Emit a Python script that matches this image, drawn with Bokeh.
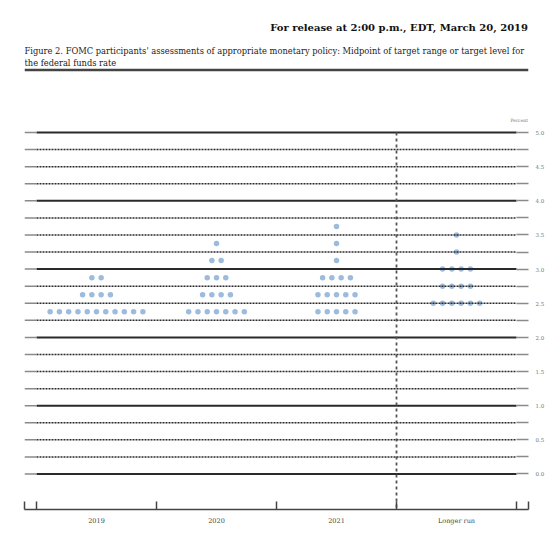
from bokeh.plotting import figure
from bokeh.layouts import column
from bokeh.models import Range1d, FixedTicker, NumeralTickFormatter, Label
from bokeh.embed import file_html
from bokeh.resources import INLINE

# ---------------- data ----------------
categories = ["2019", "2020", "2021", "Longer run"]

rates_2019 = [2.375, 2.625, 2.875]
counts_2019 = [11, 4, 2]
rates_2020 = [2.375, 2.625, 2.875, 3.125, 3.375]
counts_2020 = [7, 4, 3, 2, 1]
rates_2021 = [2.375, 2.625, 2.875, 3.125, 3.375, 3.625]
counts_2021 = [5, 5, 4, 1, 1, 1]
rates_lr = [2.5, 2.75, 3.0, 3.25, 3.5]
counts_lr = [6, 4, 4, 1, 1]

y_major_ticks = [0.0, 0.5, 1.0, 1.5, 2.0, 2.5, 3.0, 3.5, 4.0, 4.5, 5.0]
y_minor_ticks = [0.25, 0.75, 1.25, 1.75, 2.25, 2.75, 3.25, 3.75, 4.25, 4.75]
solid_levels = [0.0, 1.0, 2.0, 3.0, 4.0, 5.0]
dotted_levels = [0.25, 0.5, 0.75, 1.25, 1.5, 1.75, 2.25, 2.5, 2.75,
                 3.25, 3.5, 3.75, 4.25, 4.5, 4.75]

release_text = "For release at 2:00 p.m., EDT, March 20, 2019"
caption_lines = [
    "Figure 2. FOMC participants' assessments of appropriate monetary policy: Midpoint of target range or target level for",
    "the federal funds rate",
]
unit_text = "Percent"

# ---------------- layout ----------------
W = 552
TOP_H = 76
BOT_H = 454
FL, FR = 24, 528          # frame left / right (page px)
SERIF = "DejaVu Serif"

# ---------- header figure (page px coordinates) ----------
h = figure(width=W, height=TOP_H, output_backend="svg", toolbar_location=None,
           x_range=Range1d(FL, FR), y_range=Range1d(TOP_H, 0),
           x_axis_location=None, y_axis_location=None,
           min_border_left=FL, min_border_right=W - FR, min_border_top=0, min_border_bottom=0)
h.outline_line_color = None
h.grid.visible = False


def header_text(text, x, y, size, align="left", style="normal", color="#222222"):
    h.add_layout(Label(x=x, y=y, text=text, text_font=SERIF, text_font_size=size,
                       text_font_style=style, text_color=color,
                       text_align=align, text_baseline="middle"))


header_text(release_text, FR - 0.5, 27, "10px", align="right", style="bold", color="#111111")
header_text(caption_lines[0], FL, 50, "8.3px")
header_text(caption_lines[1], FL, 62, "8.3px")
h.segment(x0=[FL], x1=[FR], y0=[69.5], y1=[69.5], line_color="#444444", line_width=2.5)

# ---------- chart figure ----------
series = [(rates_2019, counts_2019), (rates_2020, counts_2020),
          (rates_2021, counts_2021), (rates_lr, counts_lr)]
spacing = 0.0773
xs, ys = [], []
for i, (rates, counts) in enumerate(series):
    center = i + 0.5
    for r, n in zip(rates, counts):
        for j in range(n):
            xs.append(center + (j - (n - 1) / 2) * spacing)
            ys.append(r)

n_cat = len(categories)
x_lo, x_hi = -0.1, n_cat + 0.1
y_lo, y_hi = -0.5198, 5.820

p = figure(width=W, height=BOT_H, output_backend="svg", toolbar_location=None,
           x_range=Range1d(x_lo, x_hi), y_range=Range1d(y_lo, y_hi),
           x_axis_location="below", y_axis_location="right",
           min_border_left=FL, min_border_right=W - FR, min_border_top=0, min_border_bottom=21)
p.outline_line_color = None
p.grid.visible = False

# dots (under the lines)
p.scatter(xs, ys, size=5.5, fill_color="#9cbbdd", line_color=None)

# horizontal lines
p.segment(x0=[0] * len(solid_levels), x1=[n_cat] * len(solid_levels),
          y0=solid_levels, y1=solid_levels, line_color="#2a2a2a", line_width=2)
p.segment(x0=[0] * len(dotted_levels), x1=[n_cat] * len(dotted_levels),
          y0=dotted_levels, y1=dotted_levels, line_color="#2a2a2a", line_width=1.5,
          line_dash="2 1")
# light end pieces on the left
all_levels = solid_levels + dotted_levels
p.segment(x0=[x_lo] * len(all_levels), x1=[0] * len(all_levels),
          y0=all_levels, y1=all_levels, line_color="#8a8a8a", line_width=1.5)

# vertical dashed separator before "Longer run"
p.segment(x0=[n_cat - 1], x1=[n_cat - 1], y0=[y_major_ticks[-1]], y1=[y_lo],
          line_color="#555555", line_width=1.8, line_dash="3 3")

# right y axis
yr = p.yaxis[0]
yr.ticker = FixedTicker(ticks=y_major_ticks, minor_ticks=y_minor_ticks)
yr.formatter = NumeralTickFormatter(format="0.0")
yr.axis_line_color = None
yr.major_tick_in = 12
yr.major_tick_out = 0
yr.minor_tick_in = 12
yr.minor_tick_out = 0
yr.major_tick_line_color = "#8a8a8a"
yr.minor_tick_line_color = "#8a8a8a"
yr.major_tick_line_width = 1.5
yr.minor_tick_line_width = 1.5
yr.major_label_standoff = 7
yr.major_label_text_font = SERIF
yr.major_label_text_font_size = "5.5px"
yr.major_label_text_color = "#777777"

# bottom x axis
xa = p.xaxis[0]
centers = [i + 0.5 for i in range(n_cat)]
bounds = [x_lo + 0.001] + list(range(n_cat + 1)) + [x_hi - 0.001]
xa.ticker = FixedTicker(ticks=centers, minor_ticks=bounds)
xa.major_label_overrides = {c: lab for c, lab in zip(centers, categories)}
xa.major_tick_in = 0
xa.major_tick_out = 0
xa.minor_tick_in = 8
xa.minor_tick_out = 0
xa.minor_tick_line_color = "#444444"
xa.minor_tick_line_width = 1.5
xa.axis_line_color = "#444444"
xa.axis_line_width = 1.5
xa.major_label_standoff = 7
xa.major_label_text_font = SERIF
xa.major_label_text_font_size = "6.5px"
xa.major_label_text_color = "#444444"

# "Percent" unit label above the right axis (page y 120 -> chart frame px from bottom)
frame_bottom_page = TOP_H + BOT_H - 21
p.add_layout(Label(x=FR - FL - 0.5, y=frame_bottom_page - 120, x_units="screen", y_units="screen",
                   text=unit_text, text_font=SERIF, text_font_size="4.5px",
                   text_color="#777777", text_align="right", text_baseline="middle"))

layout = column(h, p, spacing=0)
open("out.html", "w").write(file_html(layout, INLINE))
